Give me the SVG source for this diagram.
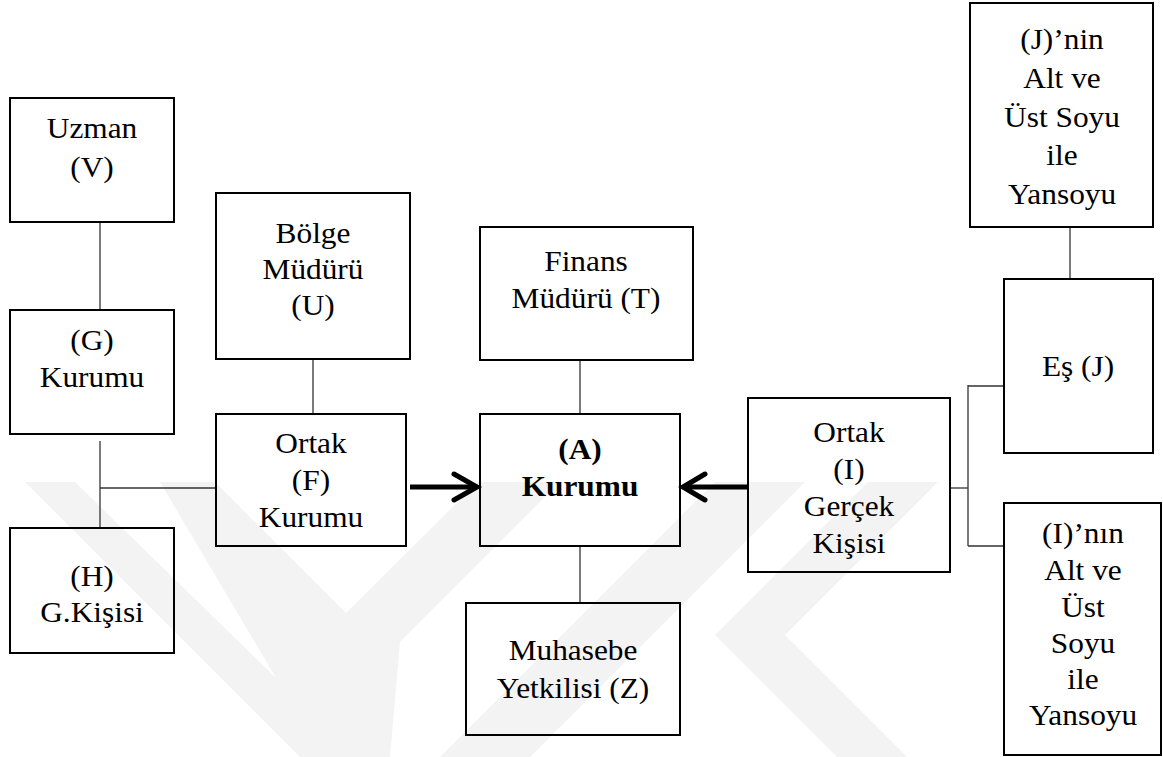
<svg xmlns="http://www.w3.org/2000/svg" width="1163" height="757" viewBox="0 0 1163 757">
  <defs>
    <style>
      .box { fill: none; stroke: #000; stroke-width: 2; }
      .link { fill: none; stroke: #333; stroke-width: 1.3; }
      .shaft { fill: none; stroke: #000; stroke-width: 5; }
      .head { fill: none; stroke: #000; stroke-width: 5; stroke-linecap: round; stroke-linejoin: miter; }
      text { font-family: "Liberation Serif", "Times New Roman", serif; font-size: 28.5px; fill: #000; text-anchor: middle; }
      .bold { font-weight: bold; }
      .wm { fill: #f3f3f3; }
    </style>
    <clipPath id="wmClip">
      <rect x="0" y="482" width="1163" height="275"/>
    </clipPath>
  </defs>

  <rect x="0" y="0" width="1163" height="757" fill="#fff"/>

  <!-- faint background emblem -->
  <g id="emblem" clip-path="url(#wmClip)">
    <polygon class="wm" points="25,482 75,482 276,678 160,482 215,482 346,613 478,482 560,482 400,642 390,757 300,757"/>
    <polygon class="wm" points="440,757 530,757 805,482 715,482"/>
    <polygon class="wm" points="868,482 938,482 785,635 907,757 837,757 715,635"/>
  </g>

  <!-- connectors -->
  <g id="connectors">
    <line class="link" x1="100" y1="222" x2="100" y2="310"/>
    <line class="link" x1="100" y1="441" x2="100" y2="528"/>
    <line class="link" x1="100" y1="488" x2="216" y2="488"/>
    <line class="link" x1="313" y1="359" x2="313" y2="414"/>
    <line class="link" x1="580" y1="360" x2="580" y2="414"/>
    <line class="link" x1="580" y1="546" x2="580" y2="603"/>
    <line class="link" x1="950" y1="488" x2="968" y2="488"/>
    <line class="link" x1="968" y1="385" x2="968" y2="546"/>
    <line class="link" x1="968" y1="386" x2="1004" y2="386"/>
    <line class="link" x1="968" y1="546" x2="1004" y2="546"/>
    <line class="link" x1="1070" y1="227" x2="1070" y2="279"/>
    <!-- F -> A -->
    <line class="shaft" x1="410" y1="487" x2="474" y2="487"/>
    <polyline class="head" points="454,474 477,487 454,500"/>
    <!-- I -> A -->
    <line class="shaft" x1="748" y1="487" x2="686" y2="487"/>
    <polyline class="head" points="705,474 683,487 705,500"/>
  </g>

  <g id="node-V">
    <rect class="box" x="10" y="98" width="164" height="124"/>
    <text transform="translate(92 0) scale(1.1 1)"><tspan x="0" y="138">Uzman</tspan><tspan x="0" y="177">(V)</tspan></text>
  </g>

  <g id="node-G">
    <rect class="box" x="10" y="310" width="164" height="124"/>
    <text transform="translate(92 0) scale(1.1 1)"><tspan x="0" y="350">(G)</tspan><tspan x="0" y="387">Kurumu</tspan></text>
  </g>

  <g id="node-H">
    <rect class="box" x="10" y="528" width="164" height="125"/>
    <text transform="translate(92 0) scale(1.1 1)"><tspan x="0" y="586">(H)</tspan><tspan x="0" y="622">G.Kişisi</tspan></text>
  </g>

  <g id="node-U">
    <rect class="box" x="216" y="193" width="194" height="166"/>
    <text transform="translate(313 0) scale(1.1 1)"><tspan x="0" y="243">Bölge</tspan><tspan x="0" y="279">Müdürü</tspan><tspan x="0" y="315">(U)</tspan></text>
  </g>

  <g id="node-F">
    <rect class="box" x="216" y="414" width="190" height="132"/>
    <text transform="translate(311 0) scale(1.1 1)"><tspan x="0" y="453">Ortak</tspan><tspan x="0" y="490">(F)</tspan><tspan x="0" y="527">Kurumu</tspan></text>
  </g>

  <g id="node-T">
    <rect class="box" x="480" y="227" width="213" height="133"/>
    <text transform="translate(586 0) scale(1.1 1)"><tspan x="0" y="271">Finans</tspan><tspan x="0" y="308">Müdürü (T)</tspan></text>
  </g>

  <g id="node-A">
    <rect class="box" x="480" y="414" width="200" height="132"/>
    <text class="bold" transform="translate(580 0) scale(1.1 1)"><tspan x="0" y="459">(A)</tspan><tspan x="0" y="496">Kurumu</tspan></text>
  </g>

  <g id="node-Z">
    <rect class="box" x="466" y="603" width="214" height="132"/>
    <text transform="translate(573 0) scale(1.1 1)"><tspan x="0" y="660">Muhasebe</tspan><tspan x="0" y="698">Yetkilisi (Z)</tspan></text>
  </g>

  <g id="node-I">
    <rect class="box" x="748" y="398" width="202" height="174"/>
    <text transform="translate(849 0) scale(1.1 1)"><tspan x="0" y="442">Ortak</tspan><tspan x="0" y="479">(I)</tspan><tspan x="0" y="516">Gerçek</tspan><tspan x="0" y="553">Kişisi</tspan></text>
  </g>

  <g id="node-J-kin">
    <rect class="box" x="970" y="3" width="183" height="224"/>
    <text transform="translate(1062 0) scale(1.1 1)"><tspan x="0" y="49">(J)’nin</tspan><tspan x="0" y="88">Alt ve</tspan><tspan x="0" y="127">Üst Soyu</tspan><tspan x="0" y="165">ile</tspan><tspan x="0" y="204">Yansoyu</tspan></text>
  </g>

  <g id="node-J">
    <rect class="box" x="1004" y="279" width="149" height="174"/>
    <text transform="translate(1078 0) scale(1.1 1)"><tspan x="0" y="376">Eş (J)</tspan></text>
  </g>

  <g id="node-I-kin">
    <rect class="box" x="1004" y="503" width="157" height="252"/>
    <text transform="translate(1083 0) scale(1.1 1)"><tspan x="0" y="543">(I)’nın</tspan><tspan x="0" y="580">Alt ve</tspan><tspan x="0" y="617">Üst</tspan><tspan x="0" y="653">Soyu</tspan><tspan x="0" y="689">ile</tspan><tspan x="0" y="725">Yansoyu</tspan></text>
  </g>
</svg>
